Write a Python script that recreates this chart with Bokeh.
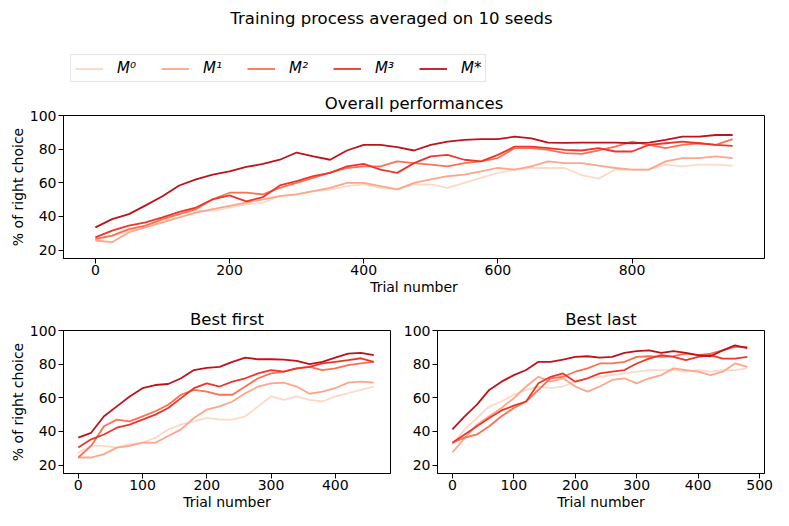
from bokeh.plotting import figure
from bokeh.layouts import column, row
from bokeh.models import Legend, LegendItem, Label, Range1d, FixedTicker
from bokeh.embed import file_html
from bokeh.resources import INLINE

# ---------------- data ----------------
names = ["M⁰", "M¹", "M²", "M³", "M*"]
colors = ["#fdd9c8", "#fca68a", "#fb7252", "#eb372a", "#bc141a"]

suptitle = "Training process averaged on 10 seeds"
titles = ["Overall performances", "Best first", "Best last"]
xlabel = "Trial number"
ylabel = "% of right choice"

# Overall performances (trial 0..950, every 25)
t_overall = list(range(0, 951, 25))
overall_M0 = [25.7, 28.6, 31.6, 34.5, 37.4, 41.4, 43.3, 43.3, 45.3, 47.2, 48.2, 52.1, 53.1, 55.1, 56, 58,
              59, 57, 56.1, 59, 59, 57, 60, 62.9, 65.9, 67.8, 68.8, 68.8, 68.8, 64.5, 62.5, 67.8,
              67.8, 67.8, 70.8, 69.8, 70.8, 70.8, 70.2]
overall_M1 = [25.7, 24.7, 30.6, 33.5, 36.5, 39.4, 42.3, 44.3, 46.3, 48.2, 50.2, 52.1, 53.1, 55.1, 57, 60,
              60, 58, 56.1, 60, 62, 63.9, 64.9, 66.8, 68.8, 67.8, 69.8, 72.7, 71.7, 71.7, 70.2, 68.8,
              67.8, 67.8, 72.7, 74.7, 74.7, 75.7, 74.7]
overall_M2 = [26.6, 28.6, 32.5, 34.5, 38.4, 41.4, 44.3, 50.2, 54.1, 54.1, 53.1, 57, 60, 62.9, 66, 68.8,
              69.8, 69.8, 72.7, 71.7, 70.8, 69.8, 71.7, 72.7, 74.7, 80.6, 80.6, 79.6, 77.6, 77.2, 79.2,
              81.5, 84.5, 82.5, 80.6, 82.5, 83.5, 82.5, 85.9]
overall_M3 = [27.6, 31.6, 34.5, 36.5, 39.4, 42.7, 45.3, 50.2, 52.5, 49, 51.5, 58.4, 61, 63.9, 65.9, 69.8,
              71.2, 67.8, 65.9, 71.7, 75.7, 76.6, 73.7, 72.7, 76.6, 81.5, 81.5, 80.6, 79.6, 79.2, 80.6,
              78.6, 78.6, 82.5, 83.5, 84.5, 83.5, 82.5, 82]
overall_Ms = [33.5, 38.4, 41.4, 46.6, 52, 58.4, 62, 64.9, 66.8, 69.4, 71.2, 73.7, 78, 75.7, 73.7, 79.2,
              82.5, 82.5, 81.2, 79.2, 82.5, 84.5, 85.5, 85.9, 85.9, 87.4, 86.4, 83.9, 83.7, 83.9, 83.9,
              83.9, 83.5, 83.9, 85.5, 87.4, 87.4, 88.4, 88.4]

# Best first (trial 0..460, every 20)
t_first = list(range(0, 461, 20))
first_M0 = [27.5, 31.4, 31.4, 30.4, 32.4, 33.3, 36.3, 41.2, 44.1, 46, 48, 47, 47, 49, 54.9, 60.8,
            58.8, 60.8, 58.8, 57.8, 60.8, 62.7, 64.7, 66.7]
first_M1 = [24.5, 24.5, 26.5, 30.4, 31.4, 33.3, 33.3, 37.3, 41.2, 48, 52.9, 54.9, 57.8, 62.7, 66.7,
            68.6, 69, 66.7, 62.4, 63.7, 65.7, 69, 69.6, 69]
first_M2 = [24.5, 31.4, 43.1, 47, 46, 49, 52, 55.9, 61.8, 64.7, 63.7, 61.8, 61.8, 66.7, 71.6, 74.5,
            75.5, 77.5, 78.4, 76.5, 77.5, 79.4, 80.4, 81.4]
first_M3 = [30.4, 35.3, 38.2, 42.2, 44.1, 47, 50, 53.9, 59.8, 65.7, 68.6, 66.7, 69.6, 71.6, 74.5,
            76.5, 75.5, 77.5, 78.4, 80.4, 81.4, 82.4, 83.5, 81.4]
first_Ms = [36.3, 39.2, 49, 54.9, 60.8, 65.7, 67.6, 68.2, 71.6, 76.5, 77.8, 78.4, 81.4, 83.9, 82.9,
            82.9, 82.7, 82, 80, 81.4, 83.9, 86.3, 86.7, 85.3]

# Best last (trial 0..480, every 20)
t_last = list(range(0, 481, 20))
last_M0 = [32.4, 41.2, 48, 54.9, 57.8, 61.8, 64.7, 66.7, 65.7, 66.7, 69.6, 71.6, 72.5, 73.5, 74.5,
           75.5, 76.5, 76.5, 76.5, 75.5, 76.5, 75.5, 76.5, 76.5, 77.5]
last_M1 = [27.5, 36, 44, 49, 53.9, 59.8, 66.7, 72.5, 69.6, 71.6, 66.7, 63.7, 66.7, 70.6, 71.6,
           68.6, 71.6, 73.5, 77.5, 76.5, 75.5, 73.5, 75.5, 80.4, 78.4]
last_M2 = [33.3, 36.3, 38.2, 43.1, 49, 53.9, 57.8, 64.7, 71.6, 72.5, 75.5, 77.5, 80.4, 80.4, 81.4,
           84.3, 84.7, 84.3, 84.7, 86.3, 85.3, 86.3, 88.2, 90.2, 90.2]
last_M3 = [33.3, 38.2, 43.1, 48, 52.5, 55.3, 57.8, 68.6, 72.5, 74.5, 69.6, 71.6, 74.5, 75.5, 76.5,
           80.4, 83.3, 85.3, 84.3, 82.4, 84.3, 85.3, 83.3, 83.3, 84.3]
last_Ms = [41.2, 49, 55.9, 64.7, 69.6, 73.5, 76.5, 81.4, 81.4, 82.7, 84.3, 84.7, 83.9, 84.3, 86.7,
           87.8, 88.2, 86.7, 87.8, 86.7, 85.3, 84.7, 88.2, 91.2, 89.5]

yticks = [20, 40, 60, 80, 100]
xticks_overall = [0, 200, 400, 600, 800]
xticks_first = [0, 100, 200, 300, 400]
xticks_last = [0, 100, 200, 300, 400, 500]

FONT = "DejaVu Sans"


def panel(title, t, series, xr, xticks, w, h, bl, br, bt, bb, with_ylabel, tstand):
    p = figure(width=w, height=h, x_range=Range1d(*xr), y_range=Range1d(15, 100),
               output_backend="svg", toolbar_location=None, title=title,
               min_border_left=bl, min_border_right=br, min_border_top=bt, min_border_bottom=bb)
    for vals, c in zip(series, colors):
        p.line(t, vals, line_color=c, line_width=1.8)
    p.title.align = "center"
    p.title.text_font = FONT
    p.title.text_font_size = "16.5px"
    p.title.text_font_style = "normal"
    p.title.text_color = "black"
    p.title.standoff = tstand
    p.xgrid.visible = False
    p.ygrid.visible = False
    p.outline_line_color = "black"
    p.outline_line_width = 1
    p.xaxis.ticker = FixedTicker(ticks=xticks)
    p.yaxis.ticker = FixedTicker(ticks=yticks)
    for ax in (p.xaxis[0], p.yaxis[0]):
        ax.axis_line_color = "black"
        ax.major_tick_line_color = "black"
        ax.major_tick_out = 5
        ax.major_tick_in = 0
        ax.minor_tick_out = 0
        ax.minor_tick_in = 0
        ax.major_label_text_font = FONT
        ax.major_label_text_font_size = "14px"
        ax.major_label_text_color = "black"
        ax.axis_label_text_font = FONT
        ax.axis_label_text_font_size = "14px"
        ax.axis_label_text_font_style = "normal"
        ax.axis_label_text_color = "black"
        ax.axis_label_standoff = 1
    p.xaxis.major_label_standoff = 1
    p.yaxis.major_label_standoff = 2
    p.xaxis.axis_label = xlabel
    if with_ylabel:
        p.yaxis.axis_label = ylabel
    return p


# header: suptitle and legend (legend proxies use the overall series; they lie
# outside this header's ranges so only their legend glyphs are visible)
head = figure(width=778, height=88, x_range=Range1d(0, 1), y_range=Range1d(0, 1),
              x_axis_type=None, y_axis_type=None, output_backend="svg", toolbar_location=None,
              min_border_left=63, min_border_right=14, min_border_top=0, min_border_bottom=0,
              outline_line_color=None)
head.xgrid.visible = False
head.ygrid.visible = False
items = []
for n, c, vals in zip(names, colors, [overall_M0, overall_M1, overall_M2, overall_M3, overall_Ms]):
    r = head.line(t_overall, vals, line_color=c, line_width=1.8)
    items.append(LegendItem(label=n, renderers=[r]))
leg = Legend(items=items, orientation="horizontal", location=(7, 6), padding=4, margin=0,
             spacing=24, glyph_width=28, glyph_height=15, label_standoff=14, label_height=15,
             label_text_font=FONT, label_text_font_size="15px", label_text_font_style="italic",
             label_text_color="black",
             border_line_color="#cccccc", border_line_width=1, background_fill_color="white")
head.add_layout(leg)
head.add_layout(Label(x=328, y=70, x_units="screen", y_units="screen", text=suptitle,
                      text_align="center", text_baseline="middle", text_font=FONT,
                      text_font_size="16.5px", text_color="black"))

top = panel(titles[0], t_overall, [overall_M0, overall_M1, overall_M2, overall_M3, overall_Ms],
            (-47.5, 997.5), xticks_overall, 778, 217, 63, 14, 25, 47, True, 6)
left = panel(titles[1], t_first, [first_M0, first_M1, first_M2, first_M3, first_Ms],
             (-23, 486), xticks_first, 400, 212, 63, 10, 23, 44, True, 4)
right = panel(titles[2], t_last, [last_M0, last_M1, last_M2, last_M3, last_Ms],
              (-24.2, 508), xticks_last, 378, 212, 36, 14, 23, 44, False, 4)

layout = column(head, top, row(left, right))
open("out.html", "w").write(file_html(layout, INLINE))
